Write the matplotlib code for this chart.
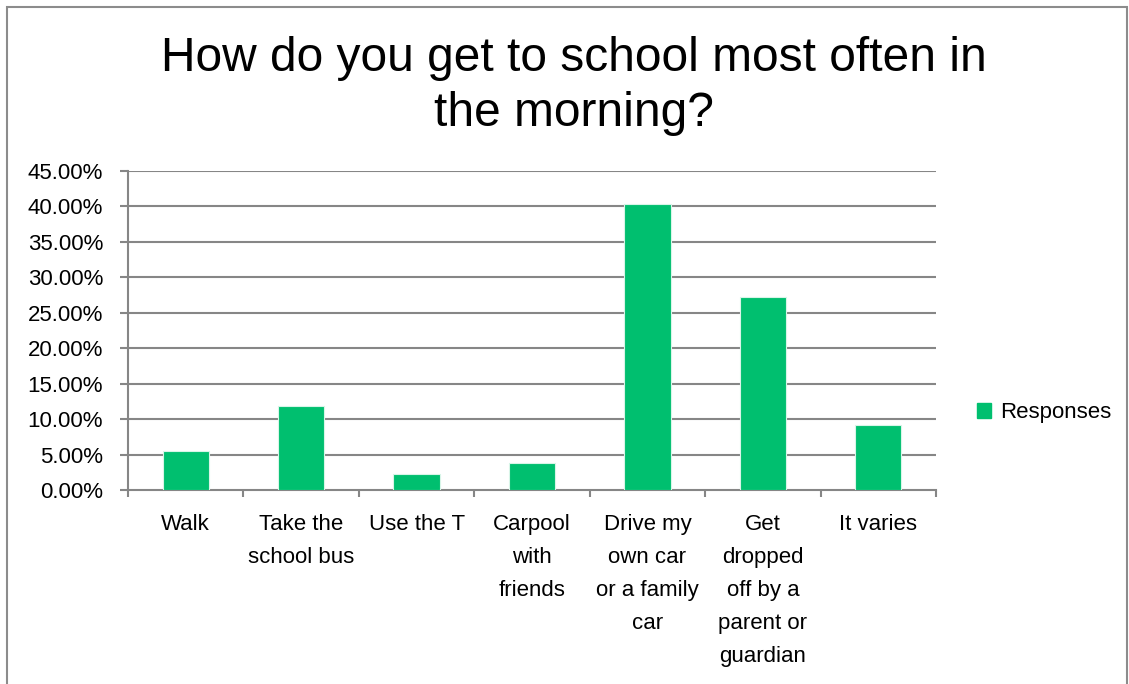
import matplotlib
matplotlib.use("Agg")
import matplotlib.pyplot as plt
from matplotlib.patches import Rectangle

categories = ["Walk", "Take the\nschool bus", "Use the T", "Carpool\nwith\nfriends",
              "Drive my\nown car\nor a family\ncar", "Get\ndropped\noff by a\nparent or\nguardian",
              "It varies"]
values = [5.5, 11.8, 2.25, 3.75, 40.3, 27.15, 9.1]
yticks = [0, 5, 10, 15, 20, 25, 30, 35, 40, 45]
ytick_labels = [f"{v:.2f}%" for v in yticks]
series_name = "Responses"
title = "How do you get to school most often in\nthe morning?"

W, H = 1129, 684
fig = plt.figure(figsize=(W / 100, H / 100), dpi=100)
fig.patch.set_facecolor("white")

# outer chart border
fig.patches.append(Rectangle((7 / W, -0.02), (1127 - 7) / W, (H - 7) / H + 0.02,
                             transform=fig.transFigure, fill=False,
                             edgecolor="#8c8c8c", linewidth=1.5))

ax = fig.add_axes([128 / W, 1 - 490 / H, (936 - 128) / W, (490 - 170.7) / H])
green = "#00BF6F"
grid_c = "#868686"
x = list(range(len(categories)))
ax.bar(x, values, width=0.4, color=green, edgecolor="#d8f5e8", linewidth=0.8,
       label=series_name, zorder=3)

ax.set_xlim(-0.5, len(categories) - 0.5)
ax.set_ylim(0, 45)
ax.set_yticks(yticks)
for yv in yticks[1:]:
    ax.axhline(yv, color=grid_c, linewidth=1.5, zorder=1)

for s in ["top", "right"]:
    ax.spines[s].set_visible(False)
for s in ["left", "bottom"]:
    ax.spines[s].set_color(grid_c)
    ax.spines[s].set_linewidth(1.5)

ax.tick_params(axis="y", direction="out", length=6, width=1.5, color=grid_c,
               pad=12, labelsize=16, labelcolor="black")
ax.set_yticklabels(ytick_labels, fontfamily="Liberation Sans")

ax.set_xticks([i - 0.5 for i in range(len(categories) + 1)])
ax.set_xticklabels([])
ax.set_xticks(x, minor=True)
ax.set_xticklabels(categories, minor=True, fontfamily="Liberation Sans",
                   fontsize=16, linespacing=1.75, va="top", ha="center",
                   multialignment="center")
ax.tick_params(axis="x", which="major", direction="out", length=5, width=1.5,
               color=grid_c)
ax.tick_params(axis="x", which="minor", length=0, pad=17)

fig.text(573.5 / W, 1 - 36 / H, title, ha="center", va="top",
         fontsize=34.5, fontfamily="Liberation Sans", linespacing=1.28)

leg = fig.legend(handles=[Rectangle((0, 0), 1, 1, color=green)], labels=[series_name],
                 loc="center left", bbox_to_anchor=(957 / W, 1 - 413 / H),
                 frameon=False, handlelength=0.65, handleheight=0.65,
                 handletextpad=0.4, prop={"family": "Liberation Sans", "size": 16})

fig.savefig("out.png", dpi=100, facecolor="white")
